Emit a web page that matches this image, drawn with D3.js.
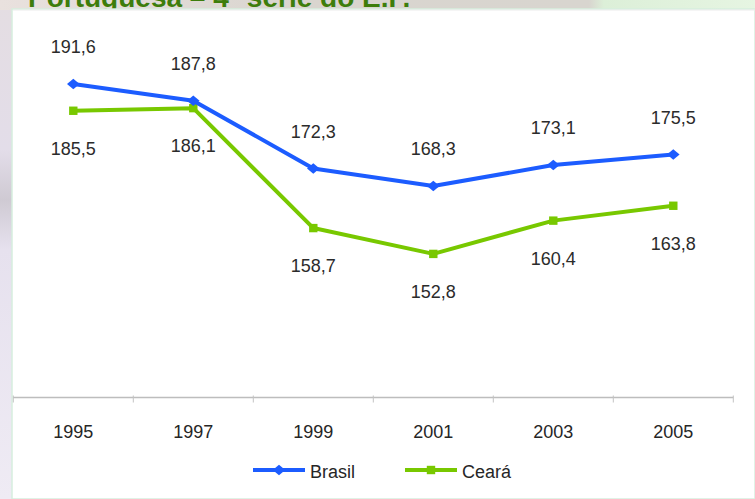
<!DOCTYPE html>
<html>
<head>
<meta charset="utf-8">
<script src="https://cdn.jsdelivr.net/npm/d3@7"></script>
<style>
  html, body { margin: 0; padding: 0; background: #fff; }
  svg { display: block; font-family: "Liberation Sans", Arial, sans-serif; }
</style>
</head>
<body>
<main></main>
<script>
const years = ["1995", "1997", "1999", "2001", "2003", "2005"];
const brasil = [191.6, 187.8, 172.3, 168.3, 173.1, 175.5];
const ceara = [185.5, 186.1, 158.7, 152.8, 160.4, 163.8];
const seriesNames = ["Brasil", "Ceará"];
const title = "Portuguesa – 4ª série do E.F.";

const w = 755;
const h = 499;

const svg = d3.select("main")
  .append("svg")
  .attr("width", w)
  .attr("height", h);

const defs = svg.append("defs");

// slide background bits that show round the chart
const topGrad = defs.append("linearGradient").attr("id", "topGrad");
topGrad.append("stop").attr("offset", "0%").attr("stop-color", "#e9e1de");
topGrad.append("stop").attr("offset", "40%").attr("stop-color", "#d9d5cf");
topGrad.append("stop").attr("offset", "78%").attr("stop-color", "#d8d5cf");
topGrad.append("stop").attr("offset", "80%").attr("stop-color", "#dcefd8");
topGrad.append("stop").attr("offset", "100%").attr("stop-color", "#e6f5e2");

const leftGrad = defs.append("linearGradient").attr("id", "leftGrad")
  .attr("x1", 0).attr("y1", 0).attr("x2", 0).attr("y2", 1);
leftGrad.append("stop").attr("offset", "0%").attr("stop-color", "#e4dde2");
leftGrad.append("stop").attr("offset", "30%").attr("stop-color", "#e3dde9");
leftGrad.append("stop").attr("offset", "40%").attr("stop-color", "#cfcad3");
leftGrad.append("stop").attr("offset", "50%").attr("stop-color", "#e6e1ee");
leftGrad.append("stop").attr("offset", "100%").attr("stop-color", "#efebf4");

svg.append("rect").attr("width", w).attr("height", h).attr("fill", "url(#leftGrad)");
svg.append("rect").attr("width", w).attr("height", 10).attr("fill", "url(#topGrad)");

svg.append("text")
  .attr("x", 28)
  .attr("y", 7)
  .attr("font-size", 28)
  .attr("font-weight", "bold")
  .attr("fill", "#3d7d0c")
  .text(title);

// chart panel
svg.append("rect")
  .attr("x", 12).attr("y", 9)
  .attr("width", w - 12).attr("height", h - 9)
  .attr("fill", "#fff")
  .attr("stroke", "#d6eede")
  .attr("stroke-width", 1.5);
svg.append("line")
  .attr("x1", 13).attr("x2", w).attr("y1", 10).attr("y2", 10)
  .attr("stroke", "#ececec");

const x = d3.scaleBand()
  .domain(years)
  .range([13.3, 733.3]);

const y = d3.scaleLinear()
  .domain([120, 210])
  .range([397.5, 3.5]);

const cx = d => x(d) + x.bandwidth() / 2;

// category axis
const axisY = y(120);
svg.append("line")
  .attr("x1", 13).attr("x2", 733.3)
  .attr("y1", axisY).attr("y2", axisY)
  .attr("stroke", "#bdbdbd")
  .attr("stroke-width", 1.5);

svg.append("g")
  .selectAll("line")
  .data(years.concat(["end"]))
  .enter()
  .append("line")
  .attr("x1", d => d === "end" ? x.range()[1] : x(d))
  .attr("x2", d => d === "end" ? x.range()[1] : x(d))
  .attr("y1", axisY - 2)
  .attr("y2", axisY + 5)
  .attr("stroke", "#c4c4c4");

svg.append("g")
  .selectAll("text")
  .data(years)
  .enter()
  .append("text")
  .attr("x", d => cx(d))
  .attr("y", 438)
  .attr("text-anchor", "middle")
  .attr("font-size", 18)
  .attr("fill", "#262626")
  .text(d => d);

const series = [
  { name: seriesNames[0], values: brasil, color: "#1c5cff", marker: "diamond", dy: -31 },
  { name: seriesNames[1], values: ceara, color: "#78c800", marker: "square", dy: 44 }
];

const line = d3.line()
  .x((d, i) => cx(years[i]))
  .y(d => y(d));

const markerPath = (type, px, py) => type === "diamond"
  ? d3.symbol(d3.symbolDiamond2, 70)()
  : d3.symbol(d3.symbolSquare2, 90)();

series.slice().reverse().forEach(s => {
  const g = svg.append("g");
  g.append("path")
    .attr("d", line(s.values))
    .attr("fill", "none")
    .attr("stroke", s.color)
    .attr("stroke-width", 4)
    .attr("stroke-linejoin", "round");

  g.selectAll("path.mk")
    .data(s.values)
    .enter()
    .append("path")
    .attr("class", "mk")
    .attr("d", markerPath(s.marker))
    .attr("transform", (d, i) => `translate(${cx(years[i])},${y(d)})` + (s.marker === "diamond" ? " scale(1.2,1)" : ""))
    .attr("fill", s.color);
});

series.forEach(s => {
  svg.append("g")
    .selectAll("text")
    .data(s.values)
    .enter()
    .append("text")
    .attr("x", (d, i) => cx(years[i]))
    .attr("y", d => y(d) + s.dy)
    .attr("text-anchor", "middle")
    .attr("font-size", 18)
    .attr("fill", "#2b2b2b")
    .text(d => d3.format(".1f")(d).replace(".", ","));
});

// legend
const legendX = [253, 405];
series.forEach((s, i) => {
  const g = svg.append("g").attr("transform", `translate(${legendX[i]},470)`);
  g.append("line")
    .attr("x1", 0).attr("x2", 52)
    .attr("stroke", s.color)
    .attr("stroke-width", 4);
  g.append("path")
    .attr("d", markerPath(s.marker))
    .attr("transform", "translate(26,0)" + (s.marker === "diamond" ? " scale(1.2,1)" : ""))
    .attr("fill", s.color);
  g.append("text")
    .attr("x", 57)
    .attr("y", 8)
    .attr("font-size", 18)
    .attr("fill", "#262626")
    .text(s.name);
});
</script>
</body>
</html>
